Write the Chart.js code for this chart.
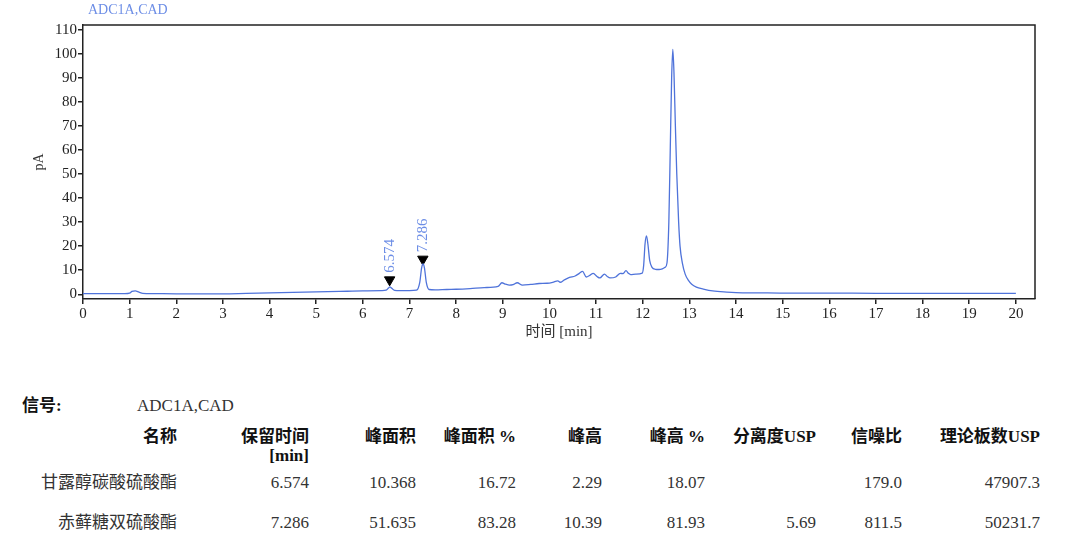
<!DOCTYPE html>
<html>
<head>
<meta charset="utf-8">
<script src="https://cdn.jsdelivr.net/npm/chart.js@4.4.1/dist/chart.umd.min.js"></script>
<style>
  body { margin: 0; background: #fff; width: 1080px; height: 547px; overflow: hidden; position: relative; }
  #wrap { position: absolute; left: 0; top: 0; width: 1080px; height: 345px; }
  .t { position: absolute; white-space: nowrap; font-family: 'Liberation Serif', 'Noto Sans CJK SC', serif; font-size: 17px; line-height: 20px; color: #333; }
  .b { font-weight: bold; color: #111; }
</style>
</head>
<body>
<div id="wrap"><canvas id="c"></canvas></div>
<div class="t" style="left:88px;top:2px;font-size:14px;line-height:16px;color:#6d8ee6;">ADC1A,CAD</div>
<div id="table"></div>
<script>
// chromatogram trace: time [min] and signal [pA]
const times = [0.0, 0.5, 0.9, 1.0, 1.05, 1.12, 1.2, 1.28, 1.5, 2.0, 2.5, 3.0, 3.5, 4.0, 4.5, 5.0, 5.5, 6.0, 6.4, 6.5,
  6.55, 6.58, 6.62, 6.68, 6.8, 7.0, 7.15, 7.22, 7.26, 7.29, 7.32, 7.36, 7.42, 7.55, 7.8, 8.0, 8.3, 8.6, 8.9, 8.98,
  9.06, 9.14, 9.22, 9.31, 9.42, 9.6, 9.78, 9.95, 10.07, 10.18, 10.23, 10.32, 10.43, 10.55, 10.64, 10.71, 10.79, 10.86, 10.94, 11.02,
  11.08, 11.18, 11.24, 11.3, 11.42, 11.52, 11.58, 11.64, 11.7, 11.74, 11.85, 11.99, 12.02, 12.05, 12.08, 12.11, 12.15, 12.2, 12.27, 12.35,
  12.42, 12.48, 12.52, 12.56, 12.59, 12.62, 12.645, 12.67, 12.7, 12.73, 12.77, 12.8, 12.85, 12.91, 12.98, 13.05, 13.15, 13.3, 13.5, 13.8,
  14.0, 14.5, 15.0, 16.0, 17.0, 18.0, 19.0, 20.0];
const signal = [0.3, 0.3, 0.3, 0.5, 1.2, 1.4, 0.9, 0.4, 0.3, 0.2, 0.2, 0.2, 0.4, 0.6, 0.8, 1.0, 1.2, 1.4, 1.5, 1.7,
  2.6, 3.1, 2.5, 1.6, 1.5, 1.5, 1.7, 5.0, 11.0, 12.6, 11.0, 5.0, 2.0, 1.8, 2.0, 2.1, 2.4, 2.8, 3.3, 4.8,
  4.2, 3.8, 4.0, 4.8, 3.8, 4.1, 4.5, 4.6, 5.0, 5.6, 5.0, 6.0, 7.0, 7.6, 8.7, 9.5, 7.2, 7.8, 8.7, 7.4,
  6.8, 8.4, 7.4, 6.8, 7.2, 8.7, 8.6, 9.8, 8.6, 8.2, 8.4, 8.8, 12, 21, 24.3, 21, 14, 11.2, 10.4, 10.3,
  10.6, 11.2, 13, 30, 60, 90, 101.8, 92, 70, 50, 30, 20, 13, 8.4, 5.8, 4.2, 3.0, 2.2, 1.4, 0.9,
  0.7, 0.6, 0.5, 0.5, 0.4, 0.4, 0.4, 0.4];

// integrated peak marks
const peakTimes = [6.574, 7.286];
const peakMarkY = [6.0, 14.6];
const peakLabels = ['6.574', '7.286'];

const xTicks = [0, 1, 2, 3, 4, 5, 6, 7, 8, 9, 10, 11, 12, 13, 14, 15, 16, 17, 18, 19, 20];
const yTicks = [0, 10, 20, 30, 40, 50, 60, 70, 80, 90, 100, 110];

// results table
const colHeaders = ['名称', '保留时间', '峰面积', '峰面积 %', '峰高', '峰高 %', '分离度USP', '信噪比', '理论板数USP'];
const compNames = ['甘露醇碳酸硫酸酯', '赤藓糖双硫酸酯'];
const retTimes = ['6.574', '7.286'];
const areas = ['10.368', '51.635'];
const areaPct = ['16.72', '83.28'];
const heights = ['2.29', '10.39'];
const heightPct = ['18.07', '81.93'];
const resolution = ['', '5.69'];
const snRatio = ['179.0', '811.5'];
const plates = ['47907.3', '50231.7'];

const axisColor = '#222';
const traceColor = '#4f73da';
const serif = "'Liberation Serif', 'Noto Sans CJK SC', serif";

const boxPlugin = {
  id: 'box',
  afterDraw(chart) {
    const { ctx, chartArea: a } = chart;
    ctx.save();
    ctx.strokeStyle = axisColor;
    ctx.lineWidth = 1.5;
    ctx.beginPath();
    ctx.moveTo(a.left, a.top);
    ctx.lineTo(a.right, a.top);
    ctx.lineTo(a.right, a.bottom);
    ctx.stroke();
    ctx.restore();
  }
};

const peakLabelPlugin = {
  id: 'peakLabels',
  afterDatasetsDraw(chart) {
    const meta = chart.getDatasetMeta(1);
    const ctx = chart.ctx;
    ctx.save();
    ctx.fillStyle = '#6d8ee6';
    ctx.font = '15px ' + serif;
    ctx.textBaseline = 'middle';
    ctx.textAlign = 'left';
    meta.data.forEach((pt, i) => {
      ctx.save();
      ctx.translate(pt.x, pt.y - 7);
      ctx.rotate(-Math.PI / 2);
      ctx.fillText(peakLabels[i], 0, 0);
      ctx.restore();
    });
    ctx.restore();
  }
};

new Chart(document.getElementById('c'), {
  type: 'scatter',
  data: {
    datasets: [
      {
        data: times.map((t, i) => ({ x: t, y: signal[i] })),
        showLine: true,
        borderColor: traceColor,
        borderWidth: 1.3,
        pointRadius: 0,
        cubicInterpolationMode: 'monotone',
      },
      {
        data: peakTimes.map((t, i) => ({ x: t, y: peakMarkY[i] })),
        pointStyle: 'triangle',
        rotation: 180,
        pointRadius: 6,
        backgroundColor: '#000',
        borderColor: '#000',
      },
    ],
  },
  options: {
    responsive: true,
    maintainAspectRatio: false,
    animation: false,
    layout: { padding: { top: 25, right: 45, left: 0, bottom: 0 } },
    plugins: { legend: { display: false }, tooltip: { enabled: false } },
    scales: {
      x: {
        type: 'linear',
        min: 0,
        max: 20.41,
        afterBuildTicks: (s) => { s.ticks = xTicks.map((v) => ({ value: v })); },
        afterFit: (s) => { s.height = 46; },
        ticks: { color: axisColor, font: { family: serif, size: 15 }, padding: 1, maxRotation: 0 },
        grid: { drawOnChartArea: false, color: axisColor, lineWidth: 1.5, tickLength: 5 },
        border: { color: axisColor, width: 1.5 },
        title: { display: true, text: '时间 [min]', color: '#333', font: { family: serif, size: 15 }, padding: { top: 0, bottom: 4 } },
      },
      y: {
        min: -1.95,
        max: 111.9,
        afterBuildTicks: (s) => { s.ticks = yTicks.map((v) => ({ value: v })); },
        afterFit: (s) => { s.width = 83; },
        ticks: { color: axisColor, font: { family: serif, size: 15 }, padding: 1 },
        grid: { drawOnChartArea: false, color: axisColor, lineWidth: 1.5, tickLength: 5 },
        border: { color: axisColor, width: 1.5 },
        title: { display: true, text: 'pA', color: '#333', font: { family: serif, size: 14 }, padding: { top: 31, bottom: 0 } },
      },
    },
  },
  plugins: [boxPlugin, peakLabelPlugin],
});

// table of peak results
const table = document.getElementById('table');
function put(text, right, centerY, bold, left) {
  const d = document.createElement('div');
  d.className = 't' + (bold ? ' b' : '');
  d.textContent = text;
  d.style.top = (centerY - 10) + 'px';
  if (left !== undefined) d.style.left = left + 'px';
  else d.style.right = (1080 - right) + 'px';
  table.appendChild(d);
}
const colRight = [177, 309, 416, 516, 602, 705, 816, 902, 1040];
put('信号:', 0, 406, true, 22);
put('ADC1A,CAD', 0, 406, false, 137);
colHeaders.forEach((h, i) => put(h, colRight[i], 437, true));
put('[min]', colRight[1], 456, true);
const rowY = [483, 523];
compNames.forEach((n, r) => {
  const vals = [n, retTimes[r], areas[r], areaPct[r], heights[r], heightPct[r], resolution[r], snRatio[r], plates[r]];
  vals.forEach((v, i) => { if (v) put(v, colRight[i], rowY[r], false); });
});
</script>
</body>
</html>
